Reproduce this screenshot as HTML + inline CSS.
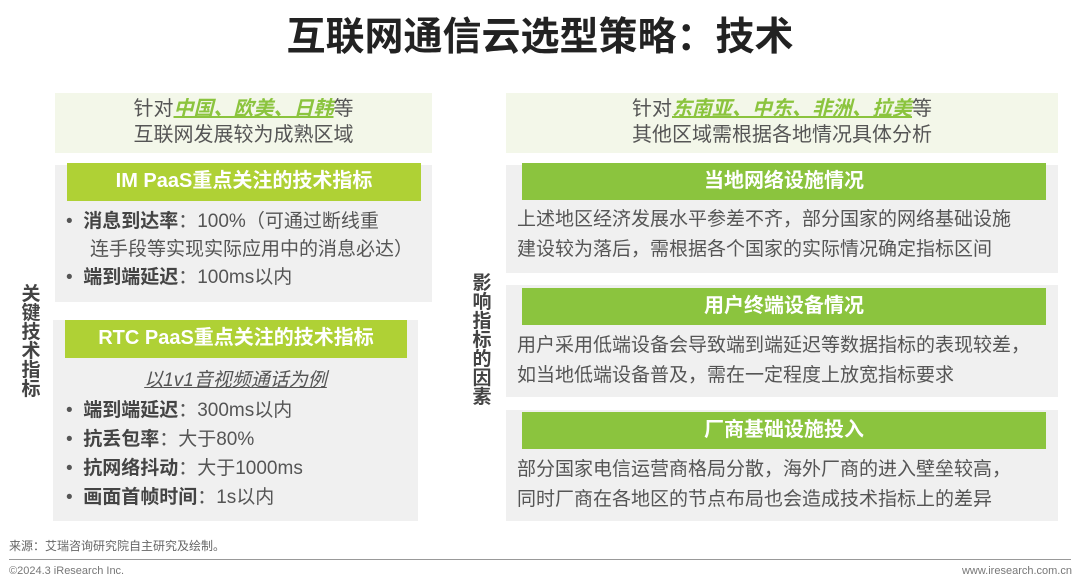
<!DOCTYPE html>
<html><head><meta charset="utf-8"><style>
*{margin:0;padding:0;box-sizing:border-box}
body{width:1080px;height:587px;background:#fff;position:relative;overflow:hidden;font-family:"Liberation Sans","Noto Sans CJK SC",sans-serif;color:#444}
.a{position:absolute}
.lt{background:#f3f7e9}
.gr{background:#f0f0f0}
.hd{position:absolute;color:#fff;font-weight:bold;font-size:20px;text-align:center;line-height:37px}
.hl{background:#afd135}
.hr{background:#8bc43e}
.t{font-size:19px;line-height:28px;color:#555;white-space:nowrap}
.g{color:#8bc43e;font-style:italic;font-weight:bold;text-decoration:underline}
b{color:#444}
.v{position:absolute;font-weight:bold;font-size:19px;line-height:19px;width:20px;text-align:center;color:#444}
</style></head><body>
<div class="a" style="left:0;top:12px;width:1080px;text-align:center;font-size:39px;font-weight:bold;color:#222;line-height:52px">互联网通信云选型策略：技术</div>

<div class="a lt t" style="left:55px;top:93px;width:377px;height:60px;text-align:center;padding-top:3px;line-height:26px;font-size:20px">针对<span class="g">中国、欧美、日韩</span>等<br>互联网发展较为成熟区域</div>
<div class="a gr" style="left:55px;top:165px;width:377px;height:137px"></div>
<div class="hd hl" style="left:67px;top:163px;width:354px;height:38px">IM PaaS重点关注的技术指标</div>
<div class="a t" style="left:66px;top:208px;width:360px">•&nbsp;&nbsp;<b>消息到达率</b>：100%（可通过断线重<br><span style="padding-left:24px">连手段等实现实际应用中的消息必达）</span><br>•&nbsp;&nbsp;<b>端到端延迟</b>：100ms以内</div>

<div class="a gr" style="left:53px;top:320px;width:365px;height:201px"></div>
<div class="hd hl" style="left:65px;top:320px;width:342px;height:38px">RTC PaaS重点关注的技术指标</div>
<div class="a t" style="left:53px;top:367px;width:365px;text-align:center;font-style:italic;text-decoration:underline">以1v1音视频通话为例</div>
<div class="a t" style="left:66px;top:396px;line-height:29px">•&nbsp;&nbsp;<b>端到端延迟</b>：300ms以内<br>•&nbsp;&nbsp;<b>抗丢包率</b>：大于80%<br>•&nbsp;&nbsp;<b>抗网络抖动</b>：大于1000ms<br>•&nbsp;&nbsp;<b>画面首帧时间</b>：1s以内</div>

<div class="v" style="left:21px;top:285px">关<br>键<br>技<br>术<br>指<br>标</div>
<div class="v" style="left:472px;top:274px">影<br>响<br>指<br>标<br>的<br>因<br>素</div>

<div class="a lt t" style="left:506px;top:93px;width:552px;height:60px;text-align:center;padding-top:3px;line-height:26px;font-size:20px">针对<span class="g">东南亚、中东、非洲、拉美</span>等<br>其他区域需根据各地情况具体分析</div>

<div class="a gr" style="left:506px;top:165px;width:552px;height:108px"></div>
<div class="hd hr" style="left:522px;top:163px;width:524px;height:37px">当地网络设施情况</div>
<div class="a t" style="left:517px;top:205px;line-height:30px">上述地区经济发展水平参差不齐，部分国家的网络基础设施<br>建设较为落后，需根据各个国家的实际情况确定指标区间</div>

<div class="a gr" style="left:506px;top:285px;width:552px;height:112px"></div>
<div class="hd hr" style="left:522px;top:288px;width:524px;height:37px">用户终端设备情况</div>
<div class="a t" style="left:517px;top:331px;line-height:30px">用户采用低端设备会导致端到端延迟等数据指标的表现较差，<br>如当地低端设备普及，需在一定程度上放宽指标要求</div>

<div class="a gr" style="left:506px;top:410px;width:552px;height:111px"></div>
<div class="hd hr" style="left:522px;top:412px;width:524px;height:37px">厂商基础设施投入</div>
<div class="a t" style="left:517px;top:455px;line-height:30px">部分国家电信运营商格局分散，海外厂商的进入壁垒较高，<br>同时厂商在各地区的节点布局也会造成技术指标上的差异</div>

<div class="a" style="left:9px;top:537px;font-size:12px;color:#666">来源：艾瑞咨询研究院自主研究及绘制。</div>
<div class="a" style="left:9px;top:559px;width:1062px;height:1px;background:#999"></div>
<div class="a" style="left:9px;top:565px;font-size:11px;color:#777">©2024.3 iResearch Inc.</div>
<div class="a" style="right:8px;top:565px;font-size:11px;color:#777">www.iresearch.com.cn</div>
</body></html>
